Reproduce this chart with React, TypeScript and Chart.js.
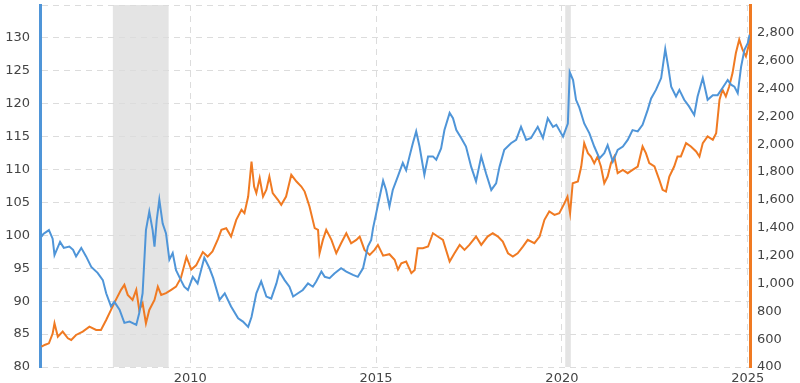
import React, { useEffect, useRef } from "react";
import { Chart, registerables } from "chart.js";

Chart.register(...registerables);

const dollarYears = [
  2006.0, 2006.05, 2006.2, 2006.3, 2006.35, 2006.5, 2006.6, 2006.75, 2006.85, 2006.93,
  2007.07, 2007.2, 2007.34, 2007.51, 2007.65, 2007.74, 2007.87, 2007.96, 2008.1, 2008.23,
  2008.37, 2008.55, 2008.63, 2008.72, 2008.81, 2008.9, 2008.99, 2009.04, 2009.1, 2009.17,
  2009.26, 2009.35, 2009.44, 2009.53, 2009.62, 2009.75, 2009.84, 2009.94, 2010.07, 2010.2,
  2010.38, 2010.52, 2010.62, 2010.79, 2010.93, 2011.1, 2011.29, 2011.42, 2011.56, 2011.65,
  2011.78, 2011.91, 2012.05, 2012.18, 2012.32, 2012.4, 2012.54, 2012.67, 2012.77, 2012.9,
  2013.03, 2013.17, 2013.3, 2013.39, 2013.53, 2013.62, 2013.75, 2013.88, 2014.06, 2014.2,
  2014.38, 2014.51, 2014.65, 2014.78, 2014.87, 2014.92, 2015.05, 2015.19, 2015.27, 2015.36,
  2015.45, 2015.59, 2015.72, 2015.81, 2015.9, 2015.99, 2016.08, 2016.17, 2016.3, 2016.4,
  2016.53, 2016.62, 2016.75, 2016.84, 2016.98, 2017.07, 2017.16, 2017.29, 2017.42, 2017.56,
  2017.69, 2017.83, 2017.96, 2018.1, 2018.23, 2018.32, 2018.45, 2018.63, 2018.77, 2018.9,
  2019.04, 2019.17, 2019.35, 2019.49, 2019.62, 2019.76, 2019.85, 2020.03, 2020.16, 2020.21,
  2020.3, 2020.38, 2020.47, 2020.6, 2020.74, 2020.87, 2021.01, 2021.14, 2021.23, 2021.37,
  2021.5, 2021.64, 2021.77, 2021.9, 2022.04, 2022.17, 2022.31, 2022.4, 2022.53, 2022.67,
  2022.78, 2022.86, 2022.94, 2023.07, 2023.16, 2023.29, 2023.42, 2023.56, 2023.65, 2023.79,
  2023.92, 2024.06, 2024.19, 2024.32, 2024.46, 2024.55, 2024.64, 2024.73, 2024.82, 2024.91,
  2025.0, 2025.05,
];
const dollarValues = [
  99.8, 100.2, 100.8, 99.5, 97.0, 99.0, 98.1, 98.3, 97.8, 96.8,
  98.1, 96.8, 95.2, 94.3, 93.2, 91.2, 89.2, 89.9, 88.7, 86.7,
  86.9, 86.4, 88.2, 91.2, 100.8, 103.6, 100.8, 98.3, 102.3, 105.4,
  101.8, 100.3, 96.3, 97.3, 94.7, 93.2, 92.2, 91.7, 93.7, 92.7,
  96.6, 95.0, 93.5, 90.2, 91.2, 89.2, 87.4, 86.9, 86.1, 87.6,
  91.2, 93.0, 90.7, 90.4, 92.7, 94.5, 93.2, 92.2, 90.7, 91.2,
  91.7, 92.7, 92.2, 93.0, 94.5, 93.7, 93.5, 94.2, 95.0, 94.5,
  94.0, 93.7, 95.0, 98.3, 99.3, 101.1, 104.6, 108.3, 106.9, 104.4,
  106.9, 109.0, 111.0, 109.9, 112.0, 114.0, 115.8, 113.5, 109.2, 112.0,
  112.0, 111.5, 113.2, 116.0, 118.6, 117.8, 116.0, 114.8, 113.5, 110.4,
  108.2, 112.0, 109.4, 106.9, 107.9, 110.4, 113.0, 114.0, 114.5, 116.5,
  114.5, 114.8, 116.5, 114.8, 117.8, 116.5, 116.8, 115.0, 117.0, 124.8,
  123.6, 120.6, 119.4, 117.0, 115.5, 113.5, 111.7, 112.5, 113.7, 111.2,
  113.0, 113.5, 114.5, 116.0, 115.8, 116.8, 119.1, 120.8, 122.1, 123.9,
  128.3, 125.6, 122.6, 121.1, 122.1, 120.6, 119.6, 118.3, 121.1, 123.9,
  120.6, 121.3, 121.3, 122.4, 123.6, 122.9, 122.6, 121.6, 125.6, 128.2,
  129.2, 130.5,
];

const goldYears = [
  2006.0, 2006.1, 2006.2, 2006.3, 2006.35, 2006.44, 2006.57, 2006.71, 2006.8, 2006.93,
  2007.11, 2007.29, 2007.47, 2007.6, 2007.74, 2007.87, 2008.0, 2008.14, 2008.23, 2008.32,
  2008.45, 2008.55, 2008.63, 2008.72, 2008.81, 2008.9, 2009.04, 2009.13, 2009.22, 2009.35,
  2009.49, 2009.62, 2009.75, 2009.9, 2010.03, 2010.16, 2010.34, 2010.47, 2010.6, 2010.75,
  2010.84, 2010.97, 2011.1, 2011.24, 2011.38, 2011.46, 2011.56, 2011.65, 2011.72, 2011.78,
  2011.87, 2011.96, 2012.05, 2012.13, 2012.22, 2012.36, 2012.45, 2012.58, 2012.72, 2012.86,
  2012.99, 2013.08, 2013.21, 2013.35, 2013.44, 2013.48, 2013.57, 2013.66, 2013.8, 2013.93,
  2014.06, 2014.2, 2014.33, 2014.47, 2014.56, 2014.69, 2014.83, 2014.96, 2015.05, 2015.19,
  2015.36, 2015.5, 2015.59, 2015.68, 2015.81, 2015.95, 2016.04, 2016.12, 2016.26, 2016.4,
  2016.53, 2016.66, 2016.8, 2016.98, 2017.11, 2017.25, 2017.38, 2017.51, 2017.69, 2017.83,
  2018.0, 2018.14, 2018.28, 2018.41, 2018.55, 2018.68, 2018.81, 2018.95, 2019.08, 2019.26,
  2019.4, 2019.53, 2019.66, 2019.8, 2019.93, 2020.07, 2020.15, 2020.22, 2020.29, 2020.43,
  2020.52, 2020.6, 2020.7, 2020.78, 2020.87, 2020.96, 2021.05, 2021.14, 2021.23, 2021.32,
  2021.41, 2021.5, 2021.64, 2021.77, 2021.9, 2022.04, 2022.17, 2022.26, 2022.35, 2022.49,
  2022.62, 2022.71, 2022.8, 2022.89, 2023.02, 2023.11, 2023.2, 2023.34, 2023.47, 2023.61,
  2023.7, 2023.79, 2023.92, 2024.06, 2024.15, 2024.24, 2024.32, 2024.41, 2024.5, 2024.59,
  2024.68, 2024.77, 2024.86, 2024.95, 2025.04, 2025.06,
];
const goldValues = [
  546, 560, 570, 640, 714, 618, 654, 606, 594, 630,
  654, 690, 666, 666, 738, 810, 882, 954, 990, 918,
  882, 954, 810, 858, 714, 810, 882, 977, 918, 930,
  954, 977, 1040, 1190, 1100, 1130, 1225, 1193, 1230, 1320,
  1385, 1397, 1337, 1457, 1529, 1505, 1624, 1876, 1696, 1649,
  1757, 1624, 1673, 1768, 1649, 1601, 1565, 1624, 1780, 1732,
  1696, 1660, 1553, 1397, 1385, 1217, 1313, 1385, 1313, 1217,
  1289, 1361, 1289, 1313, 1337, 1241, 1205, 1241, 1277, 1200,
  1210, 1170, 1100, 1145, 1157, 1074, 1097, 1253, 1253, 1265,
  1361, 1337, 1313, 1157, 1217, 1277, 1241, 1277, 1337, 1277,
  1337, 1361, 1337, 1301, 1217, 1193, 1217, 1265, 1313, 1289,
  1337, 1457, 1517, 1493, 1505, 1577, 1624, 1505, 1720, 1732,
  1840, 2008, 1936, 1912, 1864, 1912, 1840, 1720, 1768, 1864,
  1912, 1792, 1816, 1792, 1816, 1840, 1984, 1936, 1864, 1840,
  1744, 1673, 1660, 1768, 1840, 1912, 1912, 2008, 1984, 1948,
  1912, 2008, 2056, 2032, 2080, 2320, 2392, 2343, 2415, 2511,
  2655, 2751, 2679, 2631, 2727, 2787,
];

const recessionStarts = [2007.92, 2020.09];
const recessionEnds = [2009.42, 2020.24];

const xTickYears = [2010, 2015, 2020, 2025];

const BLUE = "#4f95d8";
const ORANGE = "#f07a22";

const recessionPlugin = {
  id: "recessions",
  beforeDraw(chart: any) {
    const { ctx, chartArea, scales } = chart;
    const x = scales.x;
    ctx.save();
    ctx.fillStyle = "#e4e4e4";
    for (let i = 0; i < recessionStarts.length; i++) {
      const x0 = x.getPixelForValue(recessionStarts[i]);
      const x1 = x.getPixelForValue(recessionEnds[i]);
      ctx.fillRect(x0, chartArea.top, x1 - x0, chartArea.bottom - chartArea.top);
    }
    ctx.restore();
  },
};

export default function App() {
  const ref = useRef<HTMLCanvasElement>(null);
  useEffect(() => {
    if (!ref.current) return;
    Chart.defaults.font.family = "'DejaVu Sans', Verdana, sans-serif";
    const chart = new Chart(ref.current, {
      type: "line",
      data: {
        datasets: [
          {
            label: "Dollar",
            data: dollarYears.map((x, i) => ({ x, y: dollarValues[i] })),
            borderColor: BLUE,
            borderWidth: 2,
            pointRadius: 0,
            tension: 0,
            yAxisID: "y",
          },
          {
            label: "Gold",
            data: goldYears.map((x, i) => ({ x, y: goldValues[i] })),
            borderColor: ORANGE,
            borderWidth: 2,
            pointRadius: 0,
            tension: 0,
            yAxisID: "y1",
          },
        ],
      },
      options: {
        animation: false,
        responsive: true,
        maintainAspectRatio: false,
        layout: { padding: { top: 5, left: 0, right: 0, bottom: 0 } },
        plugins: { legend: { display: false }, tooltip: { enabled: false } },
        scales: {
          x: {
            type: "linear",
            min: 2005.96,
            max: 2025.06,
            afterBuildTicks: (s: any) => {
              s.ticks = xTickYears.map((v) => ({ value: v }));
            },
            afterFit: (s: any) => {
              s.height = 16;
              s.paddingLeft = 0;
              s.paddingRight = 0;
            },
            ticks: {
              color: "#444",
              font: { size: 13 },
              padding: 4,
              maxRotation: 0,
              callback: (v: any) => String(v),
            },
            grid: { color: "#dcdcdc", drawTicks: false, lineWidth: 1 },
            border: { display: false, dash: [6, 5] },
          },
          y: {
            type: "linear",
            position: "left",
            min: 80,
            max: 135,
            afterFit: (s: any) => {
              s.width = 40;
              s.paddingTop = 0;
              s.paddingBottom = 0;
            },
            ticks: {
              stepSize: 5,
              color: "#444",
              font: { size: 13 },
              padding: 10,
              callback: (v: any) => (v === 135 ? "" : String(v)),
            },
            grid: { color: "#dcdcdc", drawTicks: false, lineWidth: 1 },
            border: { display: true, color: BLUE, width: 3, dash: [6, 5] },
          },
          y1: {
            type: "linear",
            position: "right",
            min: 400,
            max: 3000,
            afterFit: (s: any) => {
              s.width = 50;
              s.paddingTop = 0;
              s.paddingBottom = 0;
            },
            ticks: {
              stepSize: 200,
              color: "#444",
              font: { size: 13 },
              padding: 7,
              callback: (v: any) => (v === 3000 ? "" : Number(v).toLocaleString("en-US")),
            },
            grid: { drawOnChartArea: false, drawTicks: false },
            border: { display: true, color: ORANGE, width: 3 },
          },
        },
      },
      plugins: [recessionPlugin],
    });
    return () => chart.destroy();
  }, []);
  return (
    <div style={{ position: "fixed", left: 0, top: 0, width: 800, height: 383, background: "#fff" }}>
      <canvas ref={ref} />
    </div>
  );
}
